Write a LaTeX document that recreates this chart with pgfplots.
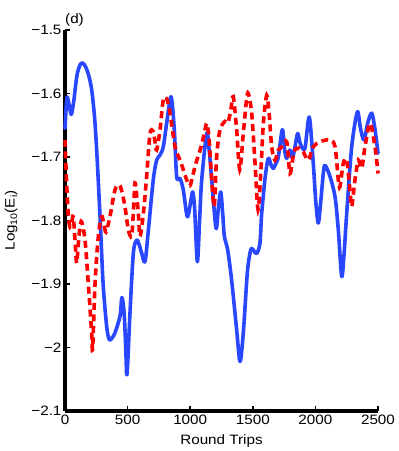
\documentclass[border=0pt]{standalone}
\usepackage{fontspec}
\setmainfont{Liberation Sans}[FakeStretch=1.12]
\usepackage{pgfplots}
\pgfplotsset{compat=1.18}
\definecolor{mblue}{rgb}{0.16,0.28,1.0}
\definecolor{mred}{rgb}{1.0,0.0,0.0}
\newcommand{\lbl}{\fontsize{13.6}{16}\selectfont}
\newcommand{\sub}[1]{\raisebox{-2.5pt}{\fontsize{9.5}{10}\selectfont #1}}

\begin{document}
\begin{tikzpicture}
\begin{axis}[
  at={(0pt,0pt)}, anchor=south west,
  scale only axis, width=313pt, height=381pt,
  xmin=0, xmax=2500, ymin=-2.1, ymax=-1.5,
  axis x line*=bottom, axis y line*=left,
  axis line style={line width=3.6pt, -},
  xtick={0,500,1000,1500,2000,2500},
  xticklabels={0,500,1000,1500,2000,2500},
  ytick={-2.1,-2,-1.9,-1.8,-1.7,-1.6,-1.5},
  yticklabels={−2.1,−2,−1.9,−1.8,−1.7,−1.6,−1.5},
  tick align=inside, major tick length=5pt,
  tick style={line width=1.6pt, black},
  tick label style={font=\lbl},
  xlabel={Round Trips},
  xlabel style={font=\lbl, at={(axis description cs:0.5,0)}, anchor=base, yshift=-33pt},
  ylabel={Log\sub{10}(E\sub{i})},
  every axis y label/.style={font=\lbl, at={(axis description cs:0,0.5)}, rotate=90, anchor=south, yshift=44pt},
  clip=false,
]
\addplot[mblue, line width=3.6pt, line cap=round, line join=round, smooth, tension=0.5] coordinates {
(0,-1.655) (15,-1.607) (30,-1.615) (50,-1.633) (70,-1.612) (95,-1.572) (120,-1.555) (141,-1.552)
(165,-1.558) (190,-1.572) (213,-1.594) (235,-1.635) (253,-1.689) (280,-1.794) (304,-1.898)
(333,-1.967) (354,-1.988) (375,-1.985) (399,-1.977) (439,-1.951) (453,-1.922) (464,-1.93)
(474,-1.951) (485,-2.0) (493,-2.043) (502,-2.02) (519,-1.946) (546,-1.851) (572,-1.831)
(592,-1.838) (612,-1.851) (639,-1.865) (666,-1.815) (705,-1.736) (732,-1.705) (759,-1.697)
(785,-1.684) (812,-1.647) (847,-1.605) (873,-1.657) (892,-1.731) (919,-1.734) (945,-1.752)
(977,-1.794) (1006,-1.768) (1020,-1.755) (1035,-1.78) (1057,-1.865) (1075,-1.8) (1092,-1.736)
(1132,-1.663) (1152,-1.69) (1172,-1.736) (1206,-1.812) (1225,-1.78) (1244,-1.755) (1260,-1.79)
(1273,-1.825) (1299,-1.846) (1331,-1.894) (1371,-1.972) (1398,-2.022) (1424,-1.977)
(1456,-1.883) (1478,-1.851) (1491,-1.844) (1510,-1.848) (1531,-1.852) (1557,-1.836)
(1571,-1.789) (1600,-1.73) (1624,-1.702) (1645,-1.712) (1664,-1.718) (1685,-1.71) (1704,-1.70)
(1736,-1.657) (1755,-1.69) (1771,-1.702) (1797,-1.689) (1816,-1.702) (1836,-1.685)
(1858,-1.663) (1875,-1.676) (1890,-1.684) (1917,-1.686) (1951,-1.637) (1983,-1.71)
(2003,-1.77) (2023,-1.804) (2043,-1.77) (2063,-1.726) (2077,-1.713) (2117,-1.731)
(2157,-1.763) (2183,-1.815) (2210,-1.888) (2230,-1.85) (2250,-1.789) (2290,-1.684)
(2335,-1.629) (2360,-1.655) (2388,-1.673) (2420,-1.645) (2450,-1.631) (2475,-1.655) (2500,-1.694)
};
\addplot[mred, line width=3.6pt, dash pattern=on 7pt off 4.5pt, smooth, tension=0.5] coordinates {
(0,-1.673) (13,-1.741) (27,-1.794) (40,-1.81) (53,-1.804) (66,-1.794) (80,-1.831) (93,-1.867)
(107,-1.835) (120,-1.81) (133,-1.802) (160,-1.831) (186,-1.899) (213,-1.977) (221,-2.001)
(240,-1.899) (266,-1.825) (293,-1.794) (310,-1.805) (327,-1.818) (359,-1.794) (399,-1.752)
(434,-1.744) (455,-1.755) (479,-1.778) (506,-1.815) (532,-1.825) (545,-1.79) (559,-1.741)
(572,-1.76) (586,-1.789) (599,-1.825) (626,-1.789) (652,-1.731) (679,-1.663) (705,-1.66)
(718,-1.675) (732,-1.689) (759,-1.657) (785,-1.61) (812,-1.608) (839,-1.631) (879,-1.684)
(919,-1.705) (945,-1.72) (972,-1.736) (998,-1.745) (1020,-1.73) (1045,-1.71) (1078,-1.69)
(1110,-1.665) (1132,-1.647) (1150,-1.67) (1172,-1.736) (1192,-1.778) (1211,-1.7) (1238,-1.657)
(1278,-1.644) (1302,-1.646) (1325,-1.625) (1344,-1.605) (1371,-1.657) (1396,-1.72)
(1424,-1.663) (1450,-1.61) (1464,-1.6) (1491,-1.631) (1518,-1.71) (1542,-1.783) (1565,-1.72)
(1585,-1.645) (1611,-1.603) (1630,-1.63) (1651,-1.684) (1677,-1.705) (1704,-1.689)
(1731,-1.684) (1771,-1.676) (1797,-1.726) (1829,-1.692) (1863,-1.686) (1903,-1.692)
(1943,-1.705) (1983,-1.684) (2037,-1.676) (2117,-1.673) (2157,-1.684) (2183,-1.736)
(2196,-1.747) (2223,-1.71) (2250,-1.705) (2276,-1.752) (2290,-1.778) (2316,-1.736)
(2343,-1.705) (2370,-1.718) (2396,-1.684) (2436,-1.647) (2476,-1.684) (2500,-1.726)
};
\node[font=\lbl, anchor=base west, inner sep=0pt] at (rel axis cs:0,1) [yshift=7pt] {(d)};
\end{axis}
\pgfresetboundingbox
\path[use as bounding box] (-65pt,-40pt) rectangle (334pt,411pt);
\end{tikzpicture}
\end{document}
